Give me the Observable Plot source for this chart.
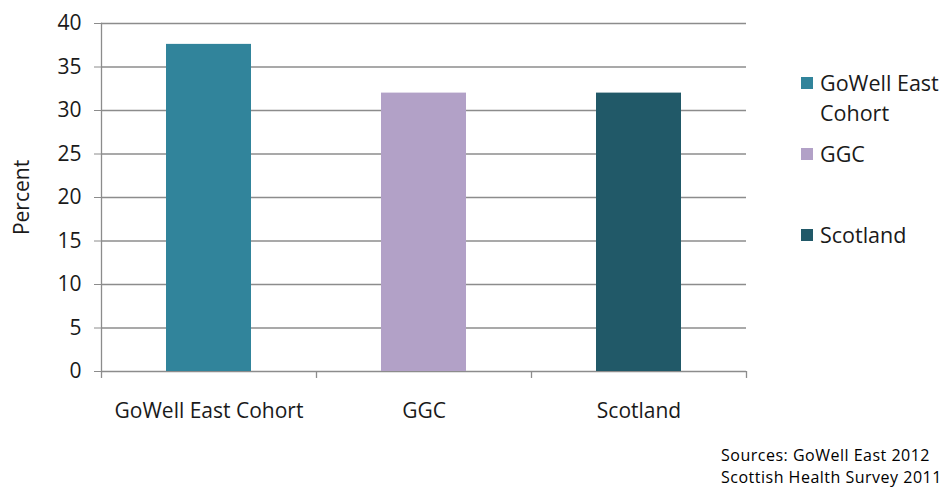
<!DOCTYPE html>
<html><head><meta charset="utf-8">
<script src="https://cdn.jsdelivr.net/npm/d3@7"></script>
<script src="https://cdn.jsdelivr.net/npm/@observablehq/plot@0.6"></script>
<style>
body{margin:0;background:#fff;}
#wrap{position:relative;width:951px;height:488px;font-family:"Open Sans",sans-serif;color:#1a1a1a;}
#wrap svg{position:absolute;left:0;top:0;}
.item{position:absolute;left:801px;font-size:21.5px;line-height:30px;padding-left:19px;width:150px;white-space:nowrap;}
.sw{position:absolute;left:0;top:9px;width:12px;height:12px;}
.src{position:absolute;left:721px;font-size:16px;line-height:22px;letter-spacing:0.5px;color:#000;white-space:nowrap;}
</style></head><body><div id="wrap"></div>
<script>
const categories = ["GoWell East Cohort", "GGC", "Scotland"];
const values = [37.6, 32.0, 32.0];
const colors = ["#31849B", "#B2A1C7", "#215968"];
const legendLabels = [["GoWell East", "Cohort"], ["GGC"], ["Scotland"]];
const yTicks = [0, 5, 10, 15, 20, 25, 30, 35, 40];
const sources = ["Sources: GoWell East 2012", "Scottish Health Survey 2011"];

const data = categories.map((c, i) => ({category: c, value: values[i]}));
const grid = "#8c8c8c";

const chart = Plot.plot({
  width: 951,
  height: 488,
  marginLeft: 101,
  marginRight: 205,
  marginTop: 23,
  marginBottom: 117,
  style: {fontFamily: "'Open Sans', sans-serif", fontSize: "21px", color: "#1a1a1a", background: "transparent"},
  x: {domain: categories, paddingInner: 0.605, paddingOuter: 0.3025},
  y: {domain: [0, 40]},
  color: {domain: categories, range: colors},
  marks: [
    Plot.ruleY(yTicks, {stroke: grid, strokeWidth: 1.3}),
    Plot.barY(data, {x: "category", y: "value", fill: "category"}),
    Plot.frame({anchor: "left", stroke: grid, strokeWidth: 1.3}),
    Plot.ruleX(categories, {x: d => d, dx: -107.5, y1: 0, y2: -0.8, stroke: grid, strokeWidth: 1.3}),
    Plot.ruleX(categories.slice(-1), {x: d => d, dx: 107.5, y1: 0, y2: -0.8, stroke: grid, strokeWidth: 1.3}),
    Plot.axisY(yTicks, {ticks: yTicks, tickSize: 7, tickPadding: 13, stroke: grid, strokeOpacity: 1, label: "Percent", labelArrow: "none", labelAnchor: "center", labelOffset: 87, fontSize: 21}),
    Plot.axisX({tickSize: 0, tickPadding: 32, label: null, fontSize: 21})
  ]
});
const wrap = document.getElementById("wrap");
wrap.appendChild(chart);

const tops = [68, 139, 220];
legendLabels.forEach((lines, i) => {
  const d = document.createElement("div");
  d.className = "item";
  d.style.top = tops[i] + "px";
  const sw = document.createElement("span");
  sw.className = "sw";
  sw.style.background = colors[i];
  d.appendChild(sw);
  d.appendChild(document.createTextNode(lines[0]));
  for (const l of lines.slice(1)) { d.appendChild(document.createElement("br")); d.appendChild(document.createTextNode(l)); }
  wrap.appendChild(d);
});
sources.forEach((t, i) => {
  const s = document.createElement("div");
  s.className = "src";
  s.style.top = (444 + i * 22) + "px";
  s.textContent = t;
  wrap.appendChild(s);
});
</script>
</body></html>
